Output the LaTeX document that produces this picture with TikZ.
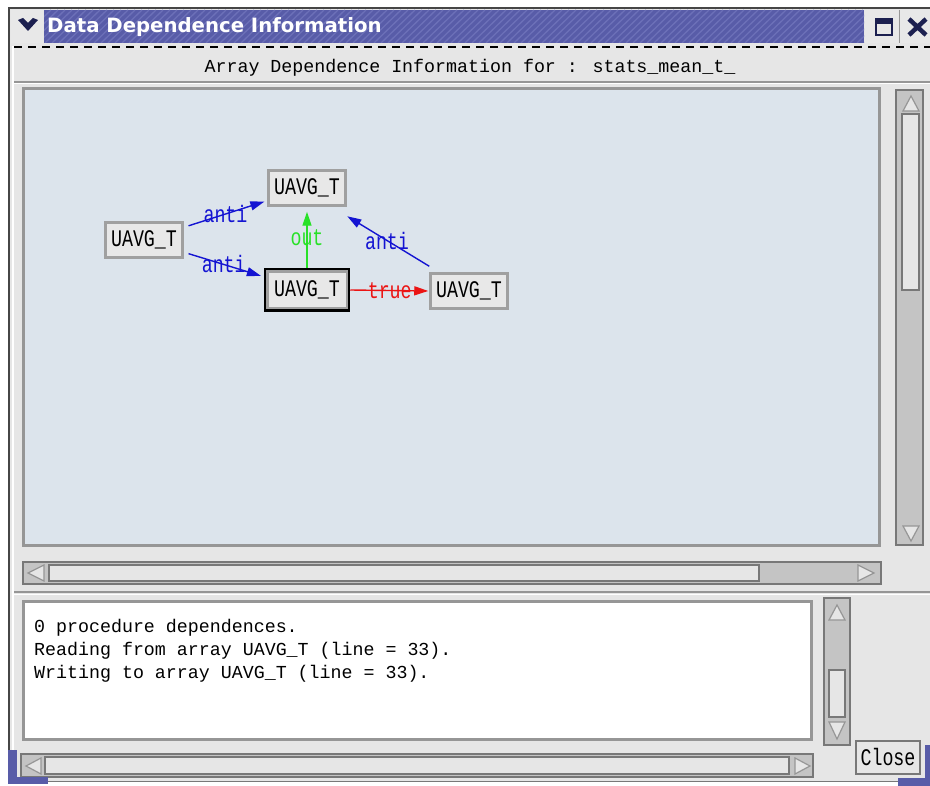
\documentclass[tikz,border=0pt]{standalone}
\usepackage{fontspec}
\newfontfamily\mymono{Liberation Mono}
\newfontfamily\mytitle{DejaVu Sans}
\usetikzlibrary{arrows.meta}
\newcommand\myui{\mymono\fontsize{18.3}{22}\selectfont}
\newcommand\tall[1]{\scalebox{1}[1.3]{#1}}
\definecolor{panel}{RGB}{230,230,230}
\definecolor{canvasbg}{RGB}{220,228,236}
\definecolor{trough}{RGB}{196,196,196}
\definecolor{edgegray}{RGB}{150,150,150}
\definecolor{darkedge}{RGB}{120,120,120}
\definecolor{framedark}{RGB}{70,70,70}
\definecolor{titleblue}{RGB}{88,92,168}
\definecolor{titlestripe}{RGB}{108,112,184}
\definecolor{navy}{RGB}{28,32,80}
\definecolor{nodefill}{RGB}{232,232,232}
\definecolor{nodeedge}{RGB}{160,160,160}
\definecolor{edgeblue}{RGB}{20,20,210}
\definecolor{edgegreen}{RGB}{40,225,40}
\definecolor{edgered}{RGB}{235,20,20}
\begin{document}
\begin{tikzpicture}[x=1pt,y=-1pt,
  vnode/.style={draw=nodeedge, line width=2.5pt, fill=nodefill, font=\myui,
    minimum width=77pt, minimum height=35pt, inner sep=0pt},
  lbl/.style={font=\myui, inner sep=0pt},
  depedge/.style={line width=1.4pt, shorten <=5pt, shorten >=3pt,
    -{Triangle[length=14pt,width=9pt]}},
  sunken/.style={draw=edgegray, line width=3pt},
  troughbox/.style={draw=darkedge, line width=2pt, fill=trough},
  sliderbox/.style={draw=darkedge, line width=2pt, fill=panel},
  arrowtri/.style={draw=edgegray, line width=1.2pt, fill=panel},
  uitext/.style={font=\myui, inner sep=0pt}
]
\useasboundingbox (0,0) rectangle (930,786);
\fill[white] (0,0) rectangle (930,786);
% window body
\fill[panel] (9,8) rectangle (930,781);
\draw[framedark, line width=2pt] (9,781) -- (9,8) -- (930,8);
\draw[darkedge, line width=1pt] (9,781) -- (930,781);
\draw[white, line width=1.5pt] (13,46) -- (13,778);
% title bar
\fill[titleblue] (44,10) rectangle (864,43);
\begin{scope}
  \clip (44,10) rectangle (864,43);
  \foreach \x in {44,51,...,905} \draw[titlestripe, line width=1.3pt] (\x-34,43) -- (\x,10);
\end{scope}
\node[anchor=west, text=white, inner sep=0pt,
  font=\mytitle\bfseries\fontsize{19.7}{22}\selectfont] (title) at (47,27) {Data Dependence Information};
\fill[nodefill] (11,10) rectangle (43,43);
\fill[navy] (18,20) -- (23,18) -- (28,23) -- (33,18) -- (38,20) -- (28,31) -- cycle;
\fill[nodefill] (865,10) rectangle (898,43);
\fill[nodefill] (900,10) rectangle (930,43);
\draw[edgegray, line width=1pt] (899,10) -- (899,43);
\draw[navy, line width=2pt] (876,19) rectangle (892,35);
\fill[navy] (876,18) rectangle (892,24);
\draw[navy, line width=4.5pt] (909,19) -- (926,35) (926,19) -- (909,35);
% dashed line and header
\draw[black, line width=1.5pt, dash pattern=on 8pt off 6pt] (14,47) -- (930,47);
\node[uitext] (hdr) at (470,68) {Array Dependence Information for : stats\_mean\_t\_};
\draw[edgegray, line width=1.5pt] (14,82) -- (930,82);
\draw[white, line width=1pt] (14,84) -- (930,84);
% canvas
\draw[sunken, fill=canvasbg] (23,89) rectangle (879,545);
% vertical scrollbar of canvas
\draw[troughbox] (896,90) rectangle (923,545);
\draw[arrowtri] (911,96) -- (903,111) -- (919,111) -- cycle;
\draw[sliderbox] (902,114) rectangle (919,290);
\draw[arrowtri] (903,526) -- (919,526) -- (911,541) -- cycle;
% horizontal scrollbar of canvas
\draw[troughbox] (23,562) rectangle (881,584);
\draw[arrowtri] (28,573) -- (44,565) -- (44,581) -- cycle;
\draw[sliderbox] (49,565) rectangle (759,581);
\draw[arrowtri] (858,565) -- (858,581) -- (874,573) -- cycle;
% separator
\draw[edgegray, line width=1.5pt] (14,592) -- (930,592);
\draw[white, line width=1pt] (14,594) -- (930,594);
% text area
\draw[sunken, fill=white] (23,601) rectangle (811,739);
\node[uitext, anchor=west] (t1) at (34,628) {0 procedure dependences.};
\node[uitext, anchor=west] (t2) at (34,651) {Reading from array UAVG\_T (line = 33).};
\node[uitext, anchor=west] (t3) at (34,674) {Writing to array UAVG\_T (line = 33).};
% text vertical scrollbar
\draw[troughbox] (824,598) rectangle (850,745);
\draw[arrowtri] (837,605) -- (829,620) -- (845,620) -- cycle;
\draw[sliderbox] (829,670) rectangle (845,717);
\draw[arrowtri] (829,722) -- (845,722) -- (837,739) -- cycle;
% bottom horizontal scrollbar
\draw[troughbox] (21,754) rectangle (813,777);
\draw[arrowtri] (26,766) -- (41,758) -- (41,774) -- cycle;
\draw[sliderbox] (45,757) rectangle (789,774);
\draw[arrowtri] (795,758) -- (795,774) -- (810,766) -- cycle;
% close button
\node[draw=darkedge, line width=2pt, fill=panel, minimum width=64pt, minimum height=33pt,
  font=\myui, inner sep=0pt] (close) at (888,757) {\tall{Close}};
% blue frame corners
\fill[titleblue] (8,750) rectangle (17,784);
\fill[titleblue] (8,777) rectangle (48,784);
\fill[titleblue] (898,778) rectangle (930,786);
\fill[titleblue] (925,745) rectangle (930,786);
% graph nodes
\node[vnode] (top) at (307,188) {\tall{UAVG\_T}};
\node[vnode] (left) at (144,240) {\tall{UAVG\_T}};
\node[vnode, draw=black, line width=3.5pt, minimum width=83pt, minimum height=40pt] (mid) at (307,290) {\tall{UAVG\_T}};
\draw[nodeedge, line width=2.5pt] ([shift={(3.5,3.5)}]mid.north west) rectangle ([shift={(-3.5,-3.5)}]mid.south east);
\node[vnode] (right) at (469,291) {\tall{UAVG\_T}};
% dependence edges
\draw[depedge, edgeblue] (left) -- node[lbl, text=edgeblue] {\tall{anti}} (top);
\draw[depedge, edgeblue] (left) -- node[lbl, text=edgeblue] {\tall{anti}} (mid);
\draw[depedge, edgegreen, shorten <=0pt, shorten >=5pt] (mid.north) -- node[lbl, text=edgegreen] {\tall{out}} (top.south);
\draw[depedge, edgeblue, shorten <=0pt] ([shift={(0,-6)}]right.north west) -- node[lbl, text=edgeblue] {\tall{anti}} ([shift={(-2,8)}]top.south east);
\draw[depedge, edgered, shorten <=0pt, shorten >=1pt] (mid.east) -- node[lbl, text=edgered] {\tall{true}} (right.west);
\end{tikzpicture}
\end{document}
